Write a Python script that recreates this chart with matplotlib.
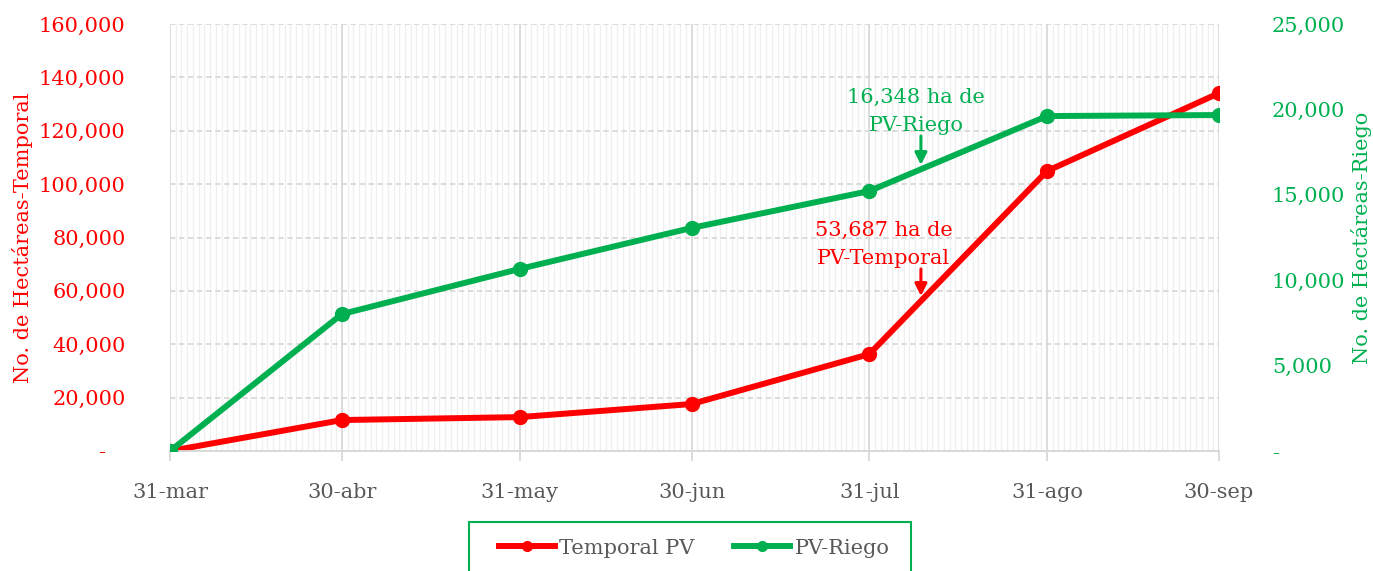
import numpy as np
import matplotlib.pyplot as plt
import matplotlib.dates as mdates
import matplotlib.ticker as mticker
from matplotlib.patches import Rectangle

plt.rcParams["font.family"] = ["DejaVu Serif"]

# Datos
fechas = np.array(["2023-03-31", "2023-04-30", "2023-05-31", "2023-06-30",
                   "2023-07-31", "2023-08-31", "2023-09-30"], dtype="datetime64[D]")
etiquetas = ["31-mar", "30-abr", "31-may", "30-jun", "31-jul", "31-ago", "30-sep"]
temporal = [0, 11600, 12700, 17600, 36300, 104900, 134100]
riego = [0, 8020, 10660, 13060, 15220, 19610, 19670]

texto_riego = "16,348 ha de\nPV-Riego"
texto_temporal = "53,687 ha de\nPV-Temporal"

rojo = "#FF0000"
verde = "#00B050"
gris = "#595959"
fs = 15
W, H = 1373, 571

x = mdates.date2num(fechas)

fig = plt.figure(figsize=(W / 100, H / 100), dpi=100)
ax = fig.add_axes([170 / W, 1 - 451 / H, (1219 - 170) / W, (451 - 24) / H])
ax2 = ax.twinx()

l1, = ax.plot(x, temporal, color=rojo, lw=4.3, marker="o", ms=10,
              solid_capstyle="round", label="Temporal PV", zorder=3)
l2, = ax2.plot(x, riego, color=verde, lw=4.3, marker="o", ms=10,
               solid_capstyle="round", label="PV-Riego", zorder=3)

ax.set_xlim(x[0], x[-1])
ax.set_ylim(0, 160000)
ax2.set_ylim(0, 25000)

# Ejes de fechas: líneas mayores en cada fecha, menores diarias
ax.xaxis.set_major_locator(mticker.FixedLocator(x))
ax.xaxis.set_major_formatter(mticker.FixedFormatter(etiquetas))
ax.xaxis.set_minor_locator(mdates.DayLocator())
ax.set_yticks(np.arange(0, 160001, 20000))
ax2.set_yticks(np.arange(0, 25001, 5000))


def fmt(v, pos):
    return "-   " if v == 0 else f"{v:,.0f}"


ax.yaxis.set_major_formatter(mticker.FuncFormatter(fmt))
ax2.yaxis.set_major_formatter(mticker.FuncFormatter(lambda v, p: "-" if v == 0 else f"{v:,.0f}"))

ax.grid(True, axis="x", which="major", color="#d9d9d9", lw=1.3)
ax.grid(True, axis="x", which="minor", color="#efefef", lw=0.9)
ax.grid(True, axis="y", which="major", color="#d9d9d9", lw=1.3, ls=(0, (3, 2)))
ax.set_axisbelow(True)

for a in (ax, ax2):
    for s in ("top", "left", "right"):
        a.spines[s].set_visible(False)
    a.spines["bottom"].set_color("#d9d9d9")
    a.spines["bottom"].set_linewidth(1.3)

ax.tick_params(axis="x", which="major", colors="#d9d9d9", length=7, width=1.3,
               labelcolor=gris, labelsize=fs, pad=16)
ax.tick_params(axis="x", which="minor", length=0)
ax.tick_params(axis="y", length=0, labelcolor=rojo, labelsize=fs, pad=32)
ax2.tick_params(axis="y", length=0, labelcolor=verde, labelsize=fs, pad=38)

ax.set_ylabel("No. de Hectáreas-Temporal", color=rojo, fontsize=fs)
ax2.set_ylabel("No. de Hectáreas-Riego", color=verde, fontsize=fs)
ax.yaxis.set_label_coords((22 - 170) / 1049, 0.5)
ax2.yaxis.set_label_coords((1362 - 170) / 1049, 0.5)
for lab in (ax.yaxis.label, ax2.yaxis.label):
    lab.set(ha="center", va="center", rotation_mode="anchor")

# Anotaciones con flecha
xa = mdates.date2num(np.datetime64("2023-08-09"))
flecha_v = dict(arrowstyle="-|>", color=verde, lw=2.2, mutation_scale=18, shrinkA=0, shrinkB=0)
flecha_r = dict(arrowstyle="-|>", color=rojo, lw=2.2, mutation_scale=18, shrinkA=0, shrinkB=0)
ax2.annotate("", xy=(xa, 16745), xytext=(0, 29), textcoords="offset pixels", arrowprops=flecha_v)
ax2.annotate(texto_riego, xy=(xa, 16745), xytext=(-5, 30), textcoords="offset pixels",
             ha="center", va="bottom", color=verde, fontsize=fs, linespacing=1.6)
ax.annotate("", xy=(xa, 58080), xytext=(0, 27), textcoords="offset pixels", arrowprops=flecha_r)
ax.annotate(texto_temporal, xy=(xa, 58080), xytext=(-37, 28), textcoords="offset pixels",
            ha="center", va="bottom", color=rojo, fontsize=fs, linespacing=1.6)

# Leyenda con marcadores más pequeños y marco propio
h1, = ax.plot([], [], color=rojo, lw=4.3, marker="o", ms=7)
h2, = ax.plot([], [], color=verde, lw=4.3, marker="o", ms=7)
leg = fig.legend([h1, h2], ["Temporal PV", "PV-Riego"], loc="center",
                 bbox_to_anchor=(694 / W, 1 - 548 / H), ncol=2, fontsize=fs,
                 frameon=False, handlelength=2.7, columnspacing=1.9,
                 handletextpad=0.2, borderaxespad=0)
for t in leg.get_texts():
    t.set_color(gris)
fig.patches.append(Rectangle((469 / W, -0.05), (911 - 469) / W, 1.05 - 522 / H,
                             transform=fig.transFigure, fill=False,
                             edgecolor=verde, lw=1.5))

fig.savefig("out.png", dpi=100)
